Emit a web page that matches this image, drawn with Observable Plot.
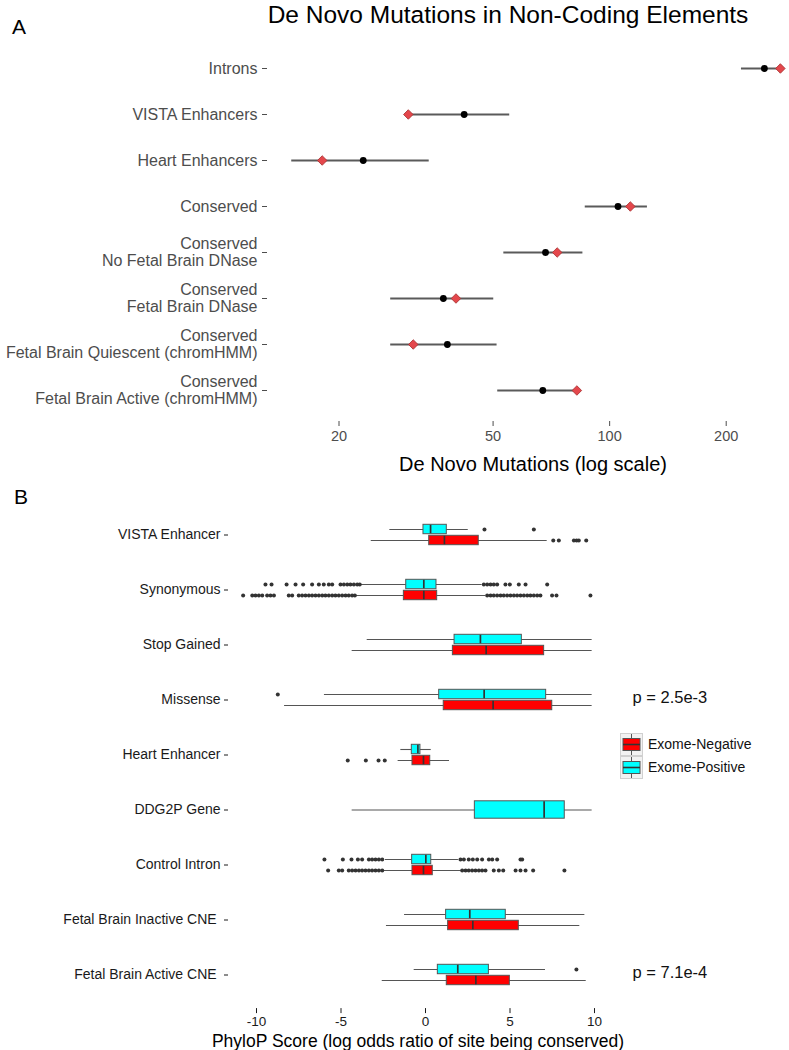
<!DOCTYPE html>
<html>
<head>
<meta charset="utf-8">
<script src="https://cdn.jsdelivr.net/npm/d3@7"></script>
<script src="https://cdn.jsdelivr.net/npm/@observablehq/plot@0.6"></script>
<style>
  body { margin: 0; background: #fff; }
  #wrap { position: relative; width: 789px; height: 1050px; overflow: hidden; background: #fff;
          font-family: "Liberation Sans", Arial, Helvetica, sans-serif; color: #000; }
  .abs { position: absolute; white-space: nowrap; }
  #panelA, #panelB { position: absolute; left: 0; }
  #panelA { top: 0; }
  #panelB { top: 490px; }
</style>
</head>
<body>
<div id="wrap">
  <div id="panelA"></div>
  <div id="panelB"></div>
  <div class="abs" style="left:258px;width:500px;top:1px;text-align:center;font-size:24.5px;line-height:28px;">De Novo Mutations in Non-Coding Elements</div>
  <div class="abs" style="left:12px;top:16px;font-size:21px;line-height:22px;">A</div>
  <div class="abs" style="left:268px;width:530px;top:452px;text-align:center;font-size:20px;line-height:24px;">De Novo Mutations (log scale)</div>
  <div class="abs" style="left:14px;top:485px;font-size:21px;line-height:24px;">B</div>
  <div class="abs" style="left:168px;width:500px;top:1030px;text-align:center;font-size:17.5px;line-height:22px;">PhyloP Score (log odds ratio of site being conserved)</div>
  <div id="legend" class="abs" style="left:620px;top:733px;"></div>
</div>
<script>
// ---------------- Panel A data ----------------
const elements = [
  "Introns",
  "VISTA Enhancers",
  "Heart Enhancers",
  "Conserved",
  "Conserved\nNo Fetal Brain DNase",
  "Conserved\nFetal Brain DNase",
  "Conserved\nFetal Brain Quiescent (chromHMM)",
  "Conserved\nFetal Brain Active (chromHMM)"
];
const observed = [251, 42.1, 23.1, 105.1, 68.3, 37.2, 38.1, 67.2];
const ciLow    = [219, 30.5, 15.1, 86.5, 53.3, 27.2, 27.2, 51.4];
const ciHigh   = [278, 55.2, 34.2, 125.2, 85.3, 50.2, 51.2, 82.5];
const expected = [276, 30.2, 18.1, 113.1, 73.2, 40.1, 31.1, 82.3];
const xTicksA  = [20, 50, 100, 200];

// ---------------- Panel B data ----------------
const features = ["VISTA Enhancer", "Synonymous", "Stop Gained", "Missense", "Heart Enhancer",
                  "DDG2P Gene", "Control Intron", "Fetal Brain Inactive CNE", "Fetal Brain Active CNE"];
// Exome-Positive (cyan), one value per feature
const posLow  = [-2.11, -3.85, -3.45, -5.98, -1.46, -4.34, -2.37, -1.24, -0.67];
const posQ1   = [-0.12, -1.14,  1.72,  0.81, -0.81,  2.92, -0.79,  1.22,  0.73];
const posMed  = [ 0.30, -0.10,  3.25,  3.47, -0.45,  7.02,  0.02,  2.62,  1.91];
const posQ3   = [ 1.26,  0.65,  5.70,  7.14, -0.30,  8.24,  0.34,  4.75,  3.75];
const posHigh = [ 2.53,  3.35,  9.86,  9.86,  0.34,  9.86,  1.95,  9.43,  7.10];
// Exome-Negative (red), no DDG2P Gene
const negFeatures = ["VISTA Enhancer", "Synonymous", "Stop Gained", "Missense", "Heart Enhancer",
                     "Control Intron", "Fetal Brain Inactive CNE", "Fetal Brain Active CNE"];
const negLow  = [-3.21, -4.14, -4.34, -8.34, -1.62, -2.43, -2.31, -2.56];
const negQ1   = [ 0.22, -1.28,  1.62,  1.08, -0.77, -0.77,  1.34,  1.26];
const negMed  = [ 1.12, -0.10,  3.59,  4.00, -0.12, -0.12,  2.80,  2.98];
const negQ3   = [ 3.15,  0.69,  7.02,  7.50,  0.28,  0.43,  5.52,  4.99];
const negHigh = [ 7.20,  3.55,  9.86,  9.86,  1.42,  2.11,  9.13,  9.51];

// outliers
const outVistaPos = [3.49, 6.41];
const outVistaNeg = [7.56, 7.89, 8.78, 8.94, 9.07, 9.51];
const outSynPos = [-9.47, -9.11, -8.22, -7.69, -7.24, -6.71, -6.31, -6.02, -5.72, -5.52,
                   -5.03, -4.83, -4.63, -4.44, -4.24, -4.04, -3.89,
                   3.45, 3.65, 3.85, 4.04, 4.24, 4.73, 4.99, 5.52, 5.92, 7.20];
const outSynNeg = [-10.79, -10.25, -10.06, -9.86, -9.66, -9.37, -9.17, -8.97, -8.09, -7.89,
                   -7.50, -7.30, -7.10, -6.90, -6.71, -6.51, -6.31, -6.11, -5.92, -5.72,
                   -5.52, -5.33, -5.13, -4.93, -4.73, -4.54, -4.34, -4.18,
                   3.65, 3.85, 4.04, 4.24, 4.44, 4.63, 4.83, 5.03, 5.23, 5.42, 5.62, 5.82,
                   6.02, 6.21, 6.41, 6.61, 6.80, 7.49, 7.75, 9.76];
const outMissensePos = [-8.74];
const outHeartNeg = [-4.60, -3.53, -2.78, -2.41];
const outIntronPos = [-5.98, -4.89, -4.38, -4.00, -3.75, -3.35, -3.16, -2.96, -2.76, -2.56,
                      2.07, 2.27, 2.56, 2.80, 3.06, 3.35, 3.75, 3.95, 4.24, 5.62, 5.72];
const outIntronNeg = [-5.76, -5.13, -4.93, -4.54, -4.34, -4.14, -3.94, -3.75, -3.55, -3.35,
                      -3.16, -2.96, -2.76, -2.56,
                      2.17, 2.37, 2.56, 2.76, 2.96, 3.16, 3.35, 3.55, 4.04, 4.34, 4.60,
                      5.33, 5.62, 5.92, 6.37, 8.22];
const outActivePos = [8.93];

const xTicksB = [-10, -5, 0, 5, 10];
const pFeatures = ["Missense", "Fetal Brain Active CNE"];
const pLabels = ["p = 2.5e-3", "p = 7.1e-4"];
const groupNames = ["Exome-Negative", "Exome-Positive"];
const groupColors = ["#FF0000", "#00FFFF"];

// ---------------- build tables ----------------
const tableA = elements.map((e, i) => ({
  element: e, observed: observed[i], lo: ciLow[i], hi: ciHigh[i], expected: expected[i]
}));

const posStats = features.map((f, i) => ({feature: f, lo: posLow[i], q1: posQ1[i], med: posMed[i], q3: posQ3[i], hi: posHigh[i]}));
const negStats = negFeatures.map((f, i) => ({feature: f, lo: negLow[i], q1: negQ1[i], med: negMed[i], q3: negQ3[i], hi: negHigh[i]}));
const posPaired = posStats.filter(d => negFeatures.includes(d.feature));
const posSolo = posStats.filter(d => !negFeatures.includes(d.feature));

const mk = (feature, arr) => arr.map(v => ({feature, value: v}));
const posOut = [
  ...mk("VISTA Enhancer", outVistaPos), ...mk("Synonymous", outSynPos), ...mk("Missense", outMissensePos),
  ...mk("Control Intron", outIntronPos), ...mk("Fetal Brain Active CNE", outActivePos)
];
const negOut = [
  ...mk("VISTA Enhancer", outVistaNeg), ...mk("Synonymous", outSynNeg), ...mk("Heart Enhancer", outHeartNeg),
  ...mk("Control Intron", outIntronNeg)
];
const pTable = pFeatures.map((f, i) => ({feature: f, label: pLabels[i]}));

// ---------------- Panel A ----------------
const grayText = "#4d4d4d";
const plotA = Plot.plot({
  width: 789, height: 490,
  marginLeft: 267, marginRight: 0, marginTop: 36, marginBottom: 69,
  style: {fontFamily: '"Liberation Sans", Arial, sans-serif', background: "transparent", overflow: "visible"},
  x: {type: "log", domain: [20, 200], range: [338.5, 725.7]},
  y: {type: "point", domain: elements, padding: 0.6},
  marks: [
    Plot.axisY({tickSize: 5, tickPadding: 5, fontSize: 16, lineHeight: 1.05, color: grayText, label: null}),
    Plot.axisX({ticks: xTicksA, tickFormat: d => String(d), tickSize: 5, tickPadding: 4,
                fontSize: 14.5, color: grayText, label: null}),
    Plot.ruleY(tableA, {y: "element", x1: "lo", x2: "hi", stroke: "#5a5a5a", strokeWidth: 1.8}),
    Plot.dot(tableA, {y: "element", x: "observed", r: 3.4, fill: "#000"}),
    Plot.dot(tableA, {y: "element", x: "expected", symbol: "square", r: 3.8, rotate: 45,
                      fill: "#e4474c", stroke: "#a83232", strokeWidth: 0.8})
  ]
});
document.getElementById("panelA").appendChild(plotA);

// ---------------- Panel B ----------------
const boxMarks = (stats, outs, fill, dy, insetTop, insetBottom) => [
  Plot.ruleY(stats, {y: "feature", x1: "lo", x2: "hi", dy, stroke: "#555", strokeWidth: 1.1}),
  Plot.barX(stats, {y: "feature", x1: "q1", x2: "q3", insetTop, insetBottom, fill, stroke: "#555", strokeWidth: 1}),
  Plot.tickX(stats, {y: "feature", x: "med", insetTop: insetTop + 0.5, insetBottom: insetBottom + 0.5,
                     stroke: "#333", strokeWidth: 1.7}),
  Plot.dot(outs, {y: "feature", x: "value", dy, r: 2, fill: "#333", stroke: "none"})
];

const plotB = Plot.plot({
  width: 789, height: 560,
  marginLeft: 228, marginRight: 161, marginTop: 10.6, marginBottom: 41.9,
  style: {fontFamily: '"Liberation Sans", Arial, sans-serif', background: "transparent", overflow: "visible"},
  x: {domain: [-10, 10], range: [256, 594]},
  y: {type: "band", domain: features, paddingInner: 0.6265, paddingOuter: 0.41325},
  marks: [
    Plot.axisY({tickSize: 4, tickPadding: 4, fontSize: 14, color: "#1a1a1a", label: null,
                tickFormat: d => d.endsWith("CNE") ? d + "\u00a0" : d}),
    Plot.axisX({ticks: xTicksB, tickFormat: d => String(d), tickSize: 5, tickPadding: 3,
                fontSize: 13.5, color: "#1a1a1a", label: null}),
    ...boxMarks(posPaired, posOut, groupColors[1], -5.5, 0.3, 11.3),
    ...boxMarks(negStats, negOut, groupColors[0], 5.5, 11.3, 0.3),
    ...boxMarks(posSolo, [], groupColors[1], 0, 1.8, 1.8),
    Plot.text(pTable, {y: "feature", text: "label", frameAnchor: "right", textAnchor: "start",
                       dx: 4, dy: -2, fontSize: 16.5, fill: "#111"})
  ]
});
document.getElementById("panelB").appendChild(plotB);

// ---------------- Legend ----------------
const keySvg = (color) => `
  <svg width="23" height="23" style="display:block">
    <rect x="0.5" y="0.5" width="22" height="22" fill="#f2f2f2" stroke="#d0d0d0"/>
    <line x1="11.5" y1="1" x2="11.5" y2="22" stroke="#555" stroke-width="1"/>
    <rect x="3" y="5.5" width="17" height="12" fill="${color}" stroke="#555" stroke-width="1"/>
    <line x1="3" y1="11.5" x2="20" y2="11.5" stroke="#333" stroke-width="1.6"/>
  </svg>`;
document.getElementById("legend").innerHTML = groupNames.map((g, i) => `
  <div style="display:flex;align-items:center;height:23px;">
    ${keySvg(groupColors[i])}
    <span style="margin-left:5px;font-size:14px;line-height:23px;color:#111;">${g}</span>
  </div>`).join("");
</script>
</body>
</html>
